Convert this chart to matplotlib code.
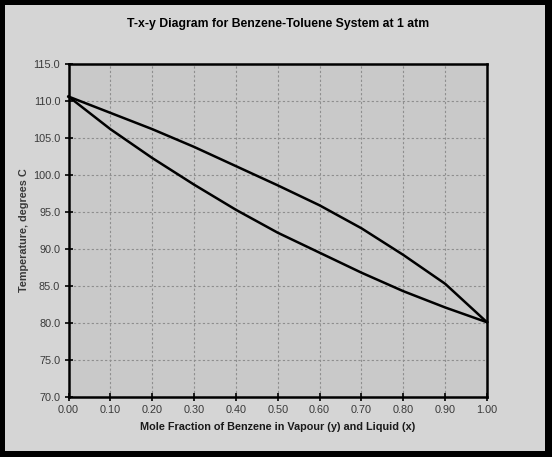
import matplotlib.pyplot as plt
from matplotlib.patches import Rectangle

# mole fraction of benzene
frac = [0.0, 0.1, 0.2, 0.3, 0.4, 0.5, 0.6, 0.7, 0.8, 0.9, 1.0]
# bubble point (liquid, x) and dew point (vapour, y) temperatures, deg C
t_liquid = [110.6, 106.2, 102.3, 98.7, 95.3, 92.2, 89.5, 86.8, 84.3, 82.1, 80.1]
t_vapour = [110.6, 108.4, 106.2, 103.8, 101.2, 98.6, 95.9, 92.8, 89.2, 85.3, 80.1]

x_ticks = [i / 10 for i in range(11)]
y_ticks = [70 + 5 * i for i in range(10)]

plt.rcParams['font.family'] = ['Liberation Sans', 'DejaVu Sans']

fig = plt.figure(figsize=(5.52, 4.57), dpi=100, facecolor='black')
W, H = 552, 457

# light grey chart area inside black frame
fig.patches.append(Rectangle((5 / W, (H - 451) / H), 540 / W, 446 / H,
                             transform=fig.transFigure, facecolor='#d5d5d5',
                             edgecolor='none', zorder=-5))

left, right, top, bottom = 68.5, 487, 64, 397
ax = fig.add_axes([left / W, (H - bottom) / H, (right - left) / W, (bottom - top) / H])
ax.set_facecolor('#c9c9c9')

ax.plot(frac, t_vapour, color='black', lw=1.8, zorder=3, clip_on=False)
ax.plot(frac, t_liquid, color='black', lw=1.8, zorder=3, clip_on=False)

ax.set_xlim(0, 1)
ax.set_ylim(70, 115)
ax.set_xticks(x_ticks)
ax.set_yticks(y_ticks)
ax.set_xticklabels([f'{v:.2f}' for v in x_ticks])
ax.set_yticklabels([f'{v:.1f}' for v in y_ticks])
ax.grid(True, color='#8e8e8e', linestyle=(0, (2, 2)), linewidth=0.8)
ax.set_axisbelow(True)

for s in ax.spines.values():
    s.set_linewidth(1.8)
    s.set_color('black')

ax.tick_params(direction='inout', length=6, width=1.2, colors='black',
               labelcolor='#3a3a3a', labelsize=7.8, pad=3)

ax.set_xlabel('Mole Fraction of Benzene in Vapour (y) and Liquid (x)',
              fontsize=7.8, fontweight='bold', color='#1a1a1a', labelpad=5)
ax.set_ylabel('Temperature, degrees C', fontsize=7.8, fontweight='bold',
              color='#3a3a3a', labelpad=3)

fig.text((left + right) / 2 / W, (H - 24) / H,
         'T-x-y Diagram for Benzene-Toluene System at 1 atm',
         ha='center', va='center', fontsize=8.8, fontweight='bold', color='black')

fig.savefig('out.png', dpi=100, facecolor=fig.get_facecolor())
